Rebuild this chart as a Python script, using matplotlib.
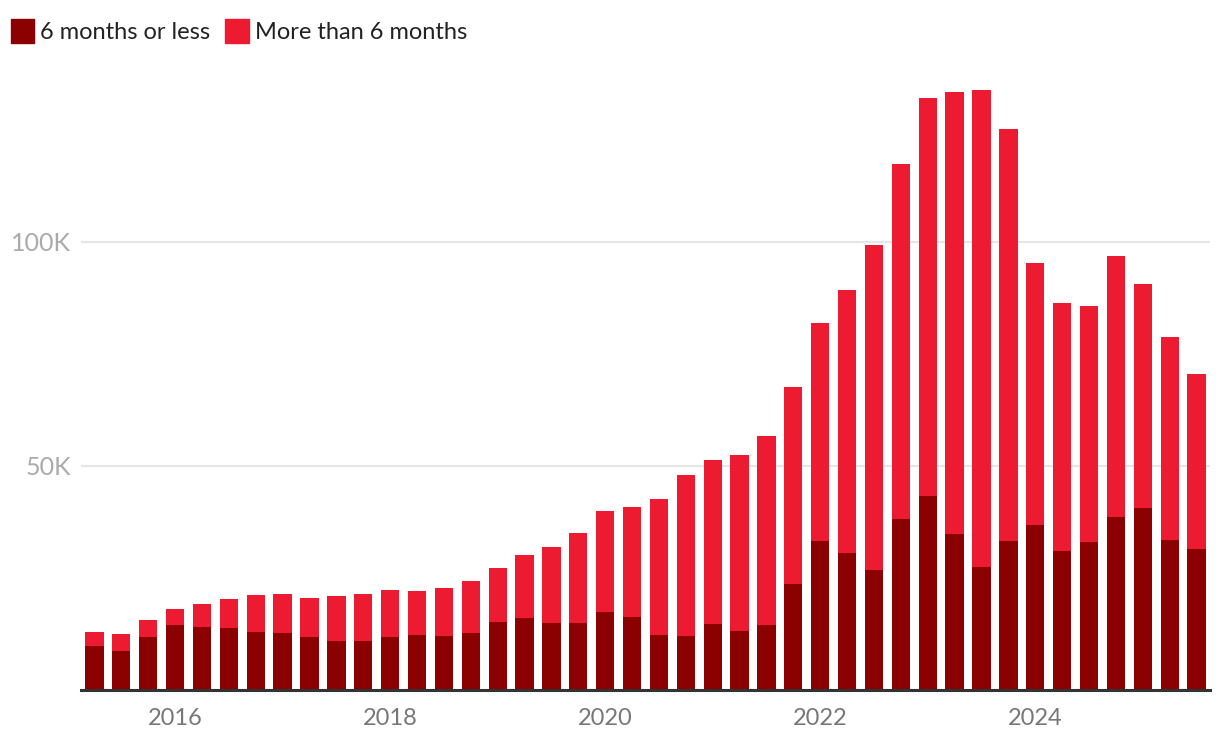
import numpy as np
import matplotlib
matplotlib.use("Agg")
import matplotlib.pyplot as plt
from matplotlib.patches import Patch

plt.rcParams['font.family'] = ['Lato', 'DejaVu Sans']

# quarterly, 2015 Q2 .. 2025 Q3 (thousands)
quarters = [f"{y} Q{q}" for y in range(2015, 2026) for q in range(1, 5)][1:43]
short = [9.8, 8.6, 11.8, 14.4, 14.0, 13.8, 12.9, 12.7, 11.8, 10.9, 10.9, 11.8,
         12.2, 12.0, 12.7, 15.1, 16.0, 14.9, 14.9, 17.3, 16.2, 12.2, 12.0, 14.7,
         13.1, 14.4, 23.6, 33.2, 30.5, 26.7, 38.1, 43.2, 34.8, 27.4, 33.2, 36.8,
         31.0, 33.0, 38.5, 40.6, 33.4, 31.4]
total = [12.9, 12.4, 15.6, 18.0, 19.1, 20.2, 21.1, 21.4, 20.5, 20.9, 21.4, 22.3,
         22.0, 22.7, 24.3, 27.2, 30.1, 31.9, 35.0, 39.9, 40.8, 42.6, 47.9, 51.3,
         52.4, 56.6, 67.6, 81.8, 89.2, 99.3, 117.3, 132.1, 133.4, 133.8, 125.2, 95.3,
         86.3, 85.6, 96.9, 90.5, 78.7, 70.5]
year_ticks = ["2016", "2018", "2020", "2022", "2024"]
y_ticks = [50, 100]
y_labels = ["50K", "100K"]

short = np.array(short) * 1000
longer = np.array(total) * 1000 - short

dark = "#8b0000"
bright = "#ed1b31"

fig = plt.figure(figsize=(12.2, 7.5), dpi=100)
ax = fig.add_axes([81 / 1220, 1 - 689.7 / 750, 1129 / 1220, (689.7 - 62.5) / 750])

x = np.arange(len(quarters))
ax.bar(x, short, width=0.68, color=dark, zorder=2)
ax.bar(x, longer, width=0.68, bottom=short, color=bright, zorder=2)

ax.set_xlim(-0.5, len(quarters) - 0.5)
ax.set_ylim(0, 140000)

tick_pos = [quarters.index(f"{y} Q1") for y in year_ticks]
ax.set_xticks(tick_pos)
ax.set_xticklabels(year_ticks, fontsize=17, color="#777777")
ax.tick_params(axis="x", length=0, pad=13)

ax.set_yticks([v * 1000 for v in y_ticks])
ax.set_yticklabels(y_labels, fontsize=18, color="#aaaaaa")
ax.tick_params(axis="y", length=0, pad=7)
ax.yaxis.grid(True, color="#e6e6e6", linewidth=1.5, zorder=0)
ax.set_axisbelow(True)

for s in ["top", "right", "left"]:
    ax.spines[s].set_visible(False)
ax.spines["bottom"].set_color("#333333")
ax.spines["bottom"].set_linewidth(2.2)
ax.spines["bottom"].set_zorder(3)

handles = [Patch(color=dark), Patch(color=bright)]
fig.legend(handles, ["6 months or less", "More than 6 months"], loc="upper left",
           bbox_to_anchor=(-0.003, 0.994), ncol=2, frameon=False, fontsize=17,
           handlelength=1.0, handleheight=1.2, handletextpad=0.25,
           columnspacing=0.65, labelcolor="#222222", borderaxespad=0.2)

fig.savefig("out.png", dpi=100)
